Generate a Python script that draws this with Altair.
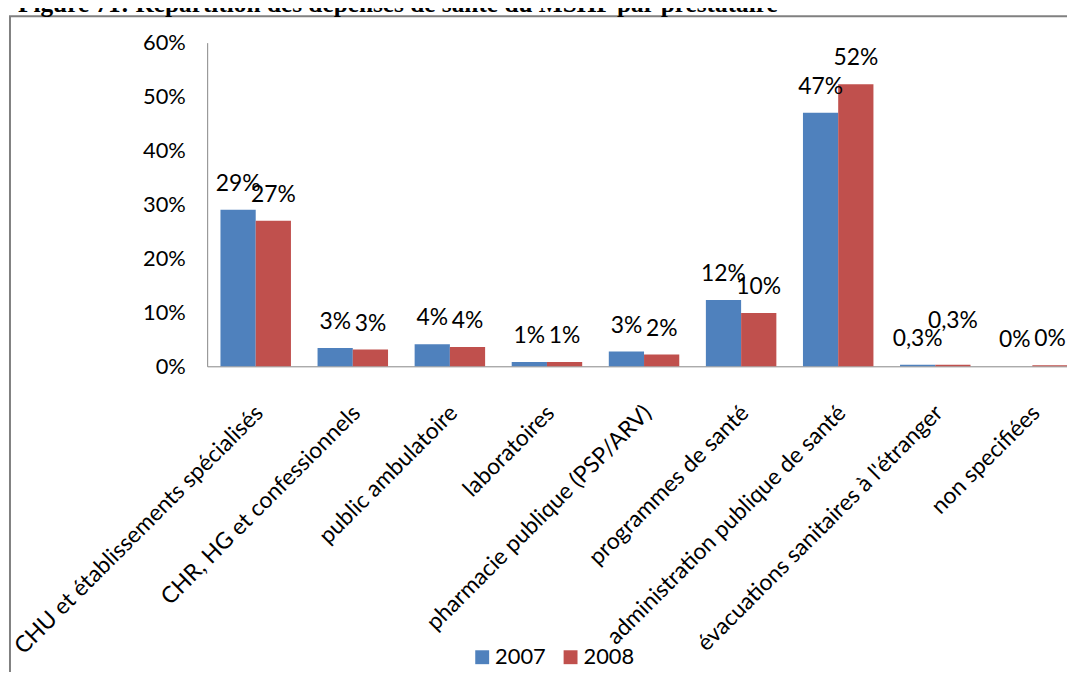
import altair as alt
import pandas as pd

categories = [
    "CHU et établissements spécialisés",
    "CHR, HG et confessionnels",
    "public ambulatoire",
    "laboratoires",
    "pharmacie publique (PSP/ARV)",
    "programmes de santé",
    "administration publique de santé",
    "évacuations sanitaires à l'étranger",
    "non specifiées",
]
years = ["2007", "2008"]
values_2007 = [29.0, 3.4, 4.1, 0.8, 2.75, 12.3, 47.0, 0.3, 0.0]
values_2008 = [27.0, 3.1, 3.6, 0.8, 2.2, 9.9, 52.3, 0.3, 0.2]
labels_2007 = ["29%", "3%", "4%", "1%", "3%", "12%", "47%", "0,3%", "0%"]
labels_2008 = ["27%", "3%", "4%", "1%", "2%", "10%", "52%", "0,3%", "0%"]
colors = ["#4F81BD", "#C0504D"]
title_text = "Figure 71: Répartition des dépenses de santé du MSHP par prestataire"
raised_label = {"cat": "évacuations sanitaires à l'étranger", "year": "2008"}

rows = []
for c, v, l in zip(categories, values_2007, labels_2007):
    rows.append({"cat": c, "year": "2007", "value": v / 100, "label": l})
for c, v, l in zip(categories, values_2008, labels_2008):
    rows.append({"cat": c, "year": "2008", "value": v / 100, "label": l})
df = pd.DataFrame(rows)
df["raised"] = (df["cat"] == raised_label["cat"]) & (df["year"] == raised_label["year"])

FONT = "Lato"

xenc = alt.X(
    "cat:N",
    sort=categories,
    scale=alt.Scale(range=[0, 880], paddingInner=0.274, paddingOuter=0.137),
    axis=alt.Axis(
        title=None,
        labelAngle=-45,
        labelAlign="right",
        labelBaseline="middle",
        labelPadding=43,
        labelOffset=4,
        labelLimit=0,
        ticks=False,
        domainColor="#868686",
        labelFont=FONT,
        labelFontSize=23,
        labelColor="black",
    ),
)
yenc = alt.Y(
    "value:Q",
    scale=alt.Scale(domain=[0, 0.6]),
    axis=alt.Axis(
        title=None,
        values=[0, 0.1, 0.2, 0.3, 0.4, 0.5, 0.6],
        format=".0%",
        grid=False,
        ticks=False,
        domainColor="#868686",
        labelFont=FONT,
        labelFontSize=22,
        labelColor="black",
        labelPadding=22,
    ),
)

base = alt.Chart(df)

bars = base.mark_bar().encode(
    x=xenc,
    xOffset=alt.XOffset("year:N", sort=years),
    y=yenc,
    color=alt.Color(
        "year:N",
        sort=years,
        scale=alt.Scale(domain=years, range=colors),
        legend=alt.Legend(
            title=None,
            orient="none",
            direction="horizontal",
            legendX=266,
            legendY=608,
            symbolType="square",
            symbolSize=196,
            symbolStrokeWidth=0,
            symbolOpacity=1,
            labelFont=FONT,
            labelFontSize=22,
            labelColor="black",
            labelOffset=2,
            columnPadding=13,
            padding=0,
        ),
    ),
)

text_enc = dict(
    x=alt.X("cat:N", sort=categories),
    xOffset=alt.XOffset("year:N", sort=years),
    y=alt.Y("value:Q"),
    text="label:N",
)
texts = (
    base.transform_filter("!datum.raised")
    .mark_text(font=FONT, fontSize=23, color="black", baseline="middle", dy=-26)
    .encode(**text_enc)
)
texts_raised = (
    base.transform_filter("datum.raised")
    .mark_text(font=FONT, fontSize=23, color="black", baseline="middle", dy=-44)
    .encode(**text_enc)
)

dummy = alt.Chart(pd.DataFrame({"a": [0]}))
frame_left = dummy.mark_rule(color="#808080", strokeWidth=2).encode(
    x=alt.value(-198.6), y=alt.value(-26.5), y2=alt.value(700)
)
frame_top = dummy.mark_rule(color="#808080", strokeWidth=2).encode(
    x=alt.value(-199.6), x2=alt.value(900), y=alt.value(-26.5)
)
title = dummy.mark_text(
    text=title_text,
    font="Liberation Serif",
    fontSize=25.5,
    fontWeight="bold",
    color="black",
    align="left",
    baseline="alphabetic",
).encode(x=alt.value(-190.6), y=alt.value(-30.5))

chart = (
    alt.layer(frame_left, frame_top, title, bars, texts, texts_raised)
    .properties(
        width=866,
        height=326,
        autosize=alt.AutoSizeParams(type="none"),
        padding={"left": 200.6, "top": 32.5, "right": 0, "bottom": 305.5},
    )
    .configure_view(stroke=None)
    .configure_axis(domainWidth=1)
)

chart.save("out.html", embed_options={"renderer": "svg", "actions": False})
